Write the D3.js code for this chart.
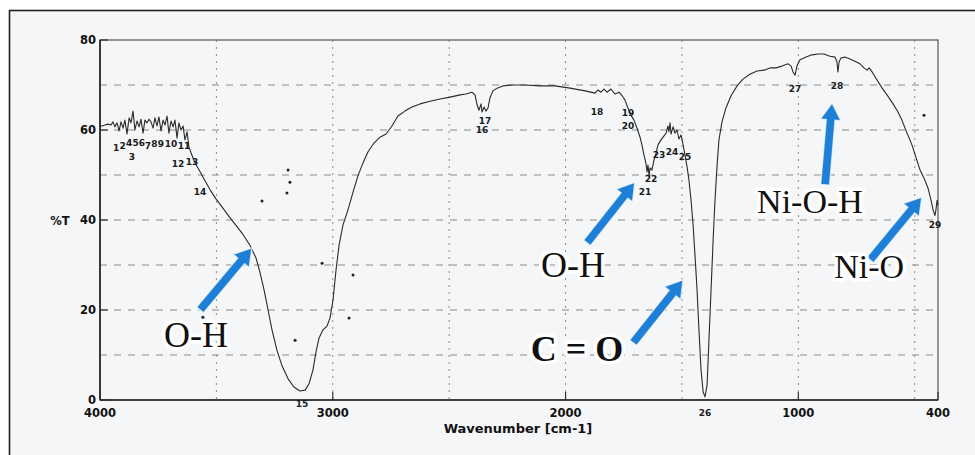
<!DOCTYPE html>
<html>
<head>
<meta charset="utf-8">
<script src="https://cdn.jsdelivr.net/npm/d3@7"></script>
<style>
  body { margin: 0; background: #fff; }
  svg { display: block; }
</style>
</head>
<body>
<svg id="chart" width="975" height="455"></svg>
<script>
// spectrum (cm-1, %T)
var wavenumber = [3991,3979,3966,3953,3944,3936,3927,3918,3910,3901,3893,3884,3875,3867,3858,3850,3841,3832,3824,3815,
  3807,3798,3789,3781,3772,3764,3755,3747,3738,3729,3721,3712,3704,3695,3686,3678,3669,3661,3652,3643,
  3635,3626,3618,3605,3592,3570,3549,3527,3502,3476,3450,3420,3390,3356,3330,3313,3295,3278,3261,3240,
  3218,3192,3167,3141,3119,3102,3085,3072,3059,3042,3025,3012,2999,2986,2973,2956,2935,2913,2892,2870,
  2849,2823,2797,2771,2746,2720,2690,2660,2625,2582,2539,2496,2453,2428,2402,2389,2380,2372,2363,2359,
  2350,2342,2333,2325,2312,2294,2269,2230,2174,2110,2045,1981,1916,1873,1861,1848,1835,1822,1805,1788,
  1770,1757,1745,1732,1719,1706,1693,1680,1672,1663,1654,1650,1646,1641,1637,1629,1620,1611,1603,1590,
  1577,1568,1560,1556,1551,1547,1538,1530,1521,1513,1504,1495,1487,1478,1470,1461,1452,1444,1435,1427,
  1418,1409,1401,1392,1384,1375,1366,1358,1349,1341,1328,1311,1289,1263,1238,1208,1178,1147,1122,1096,
  1070,1044,1031,1023,1014,1006,993,967,941,915,890,864,842,834,830,825,817,800,778,757,
  735,718,705,696,683,662,640,619,598,576,555,533,512,494,477,460,443,430,421,413,
  409,404,400];
var transmittance = [60.9,61.1,61.3,61.1,61.8,60.7,61.6,59.8,61.8,60.4,62.2,59.1,62.7,61.6,64.2,60.0,62.0,60.7,62.4,59.3,
  62.2,61.6,62.4,61.8,60.4,62.7,60.9,62.9,59.8,62.2,61.1,63.1,59.3,62.0,60.7,62.2,58.2,61.6,60.0,60.9,
  57.8,59.6,56.2,54.4,52.7,50.7,48.7,46.7,44.7,42.9,41.1,39.1,37.1,34.4,31.6,28.4,24.4,20.0,15.6,11.1,
  7.6,4.7,2.9,2.0,2.2,3.6,6.7,10.7,13.8,15.6,16.4,18.2,22.2,28.9,34.4,38.9,42.2,46.2,49.8,52.7,
  55.1,57.1,58.4,59.1,60.9,63.1,64.2,65.1,65.8,66.4,66.9,67.3,67.8,68.0,68.4,67.8,65.6,64.4,65.8,64.0,
  65.1,64.2,64.9,67.1,68.7,69.3,69.8,70.0,70.0,69.8,69.8,69.3,68.7,68.2,68.9,68.4,69.1,68.4,69.1,68.0,
  68.4,67.6,66.7,64.9,63.3,62.2,60.4,58.4,56.7,54.4,52.4,50.7,52.2,49.8,51.6,51.1,53.3,54.9,56.7,57.8,
  58.7,59.3,60.9,59.6,61.6,59.1,60.7,59.3,60.0,58.0,58.9,56.7,54.4,51.8,48.9,44.4,38.9,32.2,24.4,15.6,
  6.7,1.8,0.7,3.3,13.3,24.4,35.6,44.4,52.2,57.8,61.8,64.9,67.6,69.8,71.3,72.4,73.1,73.3,73.8,73.8,
  74.2,74.7,74.2,72.9,72.2,74.2,75.6,76.2,76.7,76.9,76.9,76.4,76.2,75.1,72.9,75.1,76.0,76.2,75.8,75.3,
  74.7,73.8,73.3,73.8,72.9,71.1,69.3,67.8,66.2,64.4,62.2,59.3,56.7,53.8,51.1,49.3,47.1,44.4,42.2,41.0,
  42.2,44.4,43.3];

// numbered peak marks printed by the instrument
var peakNums = ["1","2","4","5","6","3","7","8","9","10","11","12","13","14","15","16","17","18","19","20",
  "21","22","23","24","25","26","27","28","29"];
var peakWn = [3931,3903,3875,3847,3820,3863,3794,3766,3738,3695,3639,3665,3605,3570,3132,2359,2346,1865,1732,1732,
  1659,1633,1598,1543,1487,1401,1014,834,413];
var peakT = [56.0,56.4,57.1,57.1,56.9,53.8,56.4,56.7,56.7,56.7,56.4,52.4,52.7,46.2,-1.1,60.0,62.0,64.0,63.6,60.7,
  46.2,48.9,54.4,54.9,54.0,-3.1,68.9,69.6,38.7];

// band annotations: label, label anchor, arrow tail and head
var bandNames = ["O-H","O-H","C = O","Ni-O-H","Ni-O"];
var bandTextWn = [3588,1968,1951,950,696];
var bandTextT = [11.8,27.3,8.6,41.6,27.1];
var arrowFromWn = [3570,1908,1710,885,692];
var arrowFromT = [20.0,34.9,12.7,47.8,31.1];
var arrowToWn = [3347,1702,1495,855,469];
var arrowToT = [33.8,48.4,26.7,66.0,45.1];

// specks from the scan
var speckWn = [3192,3184,3197,3304,3046,3162,2930,3558,460,2913];
var speckT = [51.1,48.4,46.0,44.2,30.4,13.3,18.2,18.4,63.3,27.8];

var yTicks = [0,20,40,60,80];
var xTicks = [4000,3000,2000,1000,400];
var xGrid = [3500,3000,2500,2000,1500,1000,500];
var yGrid = [10,20,30,40,50,60,70];

var svg = d3.select("#chart");

var x = d3.scaleLinear().domain([4000,400]).range([100,938]);
var y = d3.scaleLinear().domain([0,80]).range([400,40]);

// page border
svg.append("rect")
  .attr("x",9.5).attr("y",10.5).attr("width",1000).attr("height",500)
  .attr("fill","#f5f6f8").attr("stroke","#222").attr("stroke-width",1.6);

// grid
svg.append("g").selectAll("line").data(xGrid).enter().append("line")
  .attr("x1",function(d){return x(d);}).attr("x2",function(d){return x(d);})
  .attr("y1",y(80)).attr("y2",y(0))
  .attr("stroke","#8a8a8a").attr("stroke-width",1).attr("stroke-dasharray","2,5");
svg.append("g").selectAll("line").data(yGrid).enter().append("line")
  .attr("x1",x(4000)).attr("x2",x(400))
  .attr("y1",function(d){return y(d);}).attr("y2",function(d){return y(d);})
  .attr("stroke","#8a8a8a").attr("stroke-width",1).attr("stroke-dasharray","7,7");

// frame
svg.append("rect")
  .attr("x",x(4000)).attr("y",y(80))
  .attr("width",x(400)-x(4000)).attr("height",y(0)-y(80))
  .attr("fill","none").attr("stroke","#555").attr("stroke-width",1.2);
svg.append("line").attr("x1",x(4000)).attr("x2",x(4000)).attr("y1",y(80)).attr("y2",y(0))
  .attr("stroke","#222").attr("stroke-width",1.6);
svg.append("line").attr("x1",x(4000)).attr("x2",x(400)).attr("y1",y(0)).attr("y2",y(0))
  .attr("stroke","#222").attr("stroke-width",1.6);

// ticks (inward) and labels
var tickFont = "'DejaVu Sans', sans-serif";
svg.append("g").selectAll("line").data(yTicks).enter().append("line")
  .attr("x1",x(4000)).attr("x2",x(4000)+8)
  .attr("y1",function(d){return y(d);}).attr("y2",function(d){return y(d);})
  .attr("stroke","#333").attr("stroke-width",1.2);
svg.append("g").selectAll("text").data(yTicks).enter().append("text")
  .attr("x",x(4000)-4).attr("y",function(d){return y(d)+4;})
  .attr("text-anchor","end")
  .style("font-family",tickFont).style("font-weight","bold").style("font-size","11.5px")
  .attr("fill","#111")
  .text(function(d){return d;});
svg.append("g").selectAll("line").data(xTicks).enter().append("line")
  .attr("x1",function(d){return x(d);}).attr("x2",function(d){return x(d);})
  .attr("y1",y(0)).attr("y2",y(0)-8)
  .attr("stroke","#333").attr("stroke-width",1.2);
svg.append("g").selectAll("text").data(xTicks).enter().append("text")
  .attr("x",function(d){return x(d);}).attr("y",y(0)+17)
  .attr("text-anchor","middle")
  .style("font-family",tickFont).style("font-weight","bold").style("font-size","11.5px")
  .attr("fill","#111")
  .text(function(d){return d;});

svg.append("text")
  .attr("x",60).attr("y",y(40)+5)
  .attr("text-anchor","middle")
  .style("font-family",tickFont).style("font-weight","bold").style("font-size","11.5px")
  .attr("fill","#111").text("%T");
svg.append("text")
  .attr("x",518).attr("y",433)
  .attr("text-anchor","middle")
  .style("font-family",tickFont).style("font-weight","bold").style("font-size","13px")
  .attr("fill","#111").text("Wavenumber [cm-1]");

// specks
svg.append("g").selectAll("circle").data(speckWn).enter().append("circle")
  .attr("cx",function(d){return x(d);})
  .attr("cy",function(d,i){return y(speckT[i]);})
  .attr("r",1.5).attr("fill","#222");

// spectrum
var pts = wavenumber.map(function(d,i){ return [d, transmittance[i]]; });
pts.unshift([4000, 60.9]);
var line = d3.line()
  .x(function(d){return x(d[0]);})
  .y(function(d){return y(d[1]);});
svg.append("path")
  .datum(pts)
  .attr("d",line)
  .attr("fill","none").attr("stroke","#2a2a2a").attr("stroke-width",1.1)
  .attr("stroke-linejoin","round");

// peak numbers
svg.append("g").selectAll("text").data(peakNums).enter().append("text")
  .attr("x",function(d,i){return x(peakWn[i]);})
  .attr("y",function(d,i){return y(peakT[i]);})
  .attr("text-anchor","middle").attr("dominant-baseline","middle")
  .style("font-family",tickFont).style("font-weight","bold").style("font-size","9px")
  .attr("fill","#1a1a1a")
  .text(function(d){return d;});

// arrows
function arrowPath(x1,y1,x2,y2){
  var dx = x2-x1, dy = y2-y1, L = Math.sqrt(dx*dx+dy*dy);
  var ux = dx/L, uy = dy/L, nx = -uy, ny = ux;
  var sw = 4.5, hw = 10.5, hl = 17;
  var bx = x2-ux*hl, by = y2-uy*hl;
  var p = [
    [x1+nx*sw, y1+ny*sw], [bx+nx*sw, by+ny*sw], [bx+nx*hw, by+ny*hw], [x2, y2],
    [bx-nx*hw, by-ny*hw], [bx-nx*sw, by-ny*sw], [x1-nx*sw, y1-ny*sw]
  ];
  return "M" + p.map(function(q){return q[0].toFixed(1)+","+q[1].toFixed(1);}).join("L") + "Z";
}
svg.append("g").selectAll("path").data(arrowFromWn).enter().append("path")
  .attr("d",function(d,i){
    return arrowPath(x(d), y(arrowFromT[i]), x(arrowToWn[i]), y(arrowToT[i]));
  })
  .attr("fill","#1e7fd6").attr("stroke","#fff").attr("stroke-width",1.5)
  .attr("stroke-opacity",0.7);

// band labels
var bandSize = [36,36,36,34,34];
var bandWeight = ["normal","normal","bold","normal","normal"];
svg.append("g").selectAll("text").data(bandNames).enter().append("text")
  .attr("x",function(d,i){return x(bandTextWn[i]);})
  .attr("y",function(d,i){return y(bandTextT[i]);})
  .attr("text-anchor","middle")
  .style("font-family","'Liberation Serif', 'Times New Roman', serif")
  .style("font-size",function(d,i){return bandSize[i]+"px";})
  .style("font-weight",function(d,i){return bandWeight[i];})
  .attr("fill","#111")
  .attr("stroke","#fff").attr("stroke-width",7).attr("stroke-linejoin","round")
  .style("paint-order","stroke")
  .text(function(d){return d;});
</script>
</body>
</html>
